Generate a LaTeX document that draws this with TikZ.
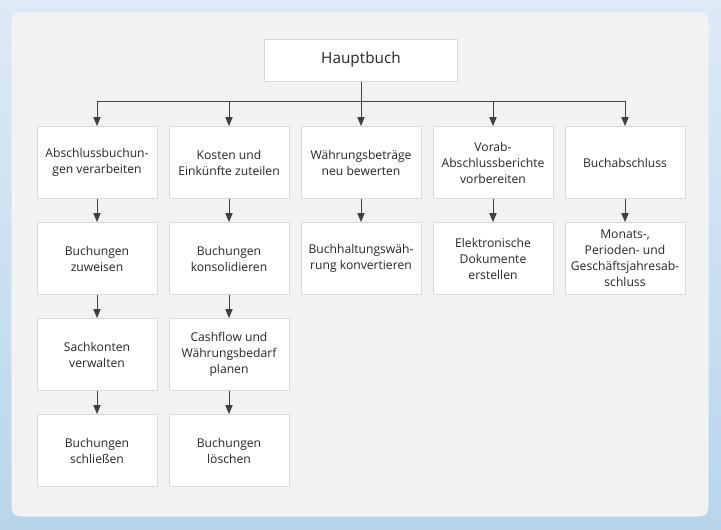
\documentclass[tikz,border=0pt]{standalone}
\usepackage{fontspec}
\setmainfont{Open Sans}
\usetikzlibrary{arrows.meta}
\definecolor{bgtop}{HTML}{DEEAF6}
\definecolor{bgbot}{HTML}{B9D5EC}
\definecolor{panel}{HTML}{F2F2F2}
\definecolor{boxline}{HTML}{D9D9D9}
\definecolor{arrline}{HTML}{404040}
\definecolor{txt}{HTML}{262626}
\tikzset{
    box/.style={draw=boxline, line width=0.75pt, fill=white, minimum width=90pt, minimum height=54pt,
        align=center, text=txt, font=\fontsize{9.1}{12}\selectfont, inner sep=1pt},
    topbox/.style={box, minimum width=144.75pt, minimum height=31.5pt, font=\fontsize{11.5}{13}\selectfont},
    arr/.style={draw=arrline, line width=0.75pt, -{Triangle[length=6.75pt,width=5.5pt]}}
}
\begin{document}
\begin{tikzpicture}[x=0.75pt,y=-0.75pt]
        \useasboundingbox (0,0) rectangle (721,529);
        \shade[top color=bgtop, bottom color=bgbot] (0,0) rectangle (721,529);
        \draw[draw=white!80!bgtop, fill=panel, rounded corners=6pt] (12,13) rectangle (708,516);

        \node[topbox] (hb) at (361,60) {Hauptbuch};

        % erste Reihe
        \node[box] (abs) at (97,162.5) {Abschlussbuchun-\\gen verarbeiten};
        \node[box] (kost) at (229,162.5) {Kosten und\\Einkünfte zuteilen};
        \node[box] (wbew) at (361,162.5) {Währungsbeträge\\neu bewerten};
        \node[box] (vorab) at (493,162.5) {Vorab-\\Abschlussberichte\\vorbereiten};
        \node[box] (buchab) at (625,162.5) {Buchabschluss};

        % zweite Reihe
        \node[box] (zuw) at (97,258.5) {Buchungen\\zuweisen};
        \node[box] (kons) at (229,258.5) {Buchungen\\konsolidieren};
        \node[box] (konv) at (361,258.5) {Buchhaltungswäh-\\rung konvertieren};
        \node[box] (edok) at (493,258.5) {Elektronische\\Dokumente\\erstellen};
        \node[box] (mon) at (625,258.5) {Monats-,\\Perioden- und\\Geschäftsjahresab-\\schluss};

        % dritte Reihe
        \node[box] (sach) at (97,354.5) {Sachkonten\\verwalten};
        \node[box] (cash) at (229,354.5) {Cashflow und\\Währungsbedarf\\planen};

        % vierte Reihe
        \node[box] (schl) at (97,450.5) {Buchungen\\schließen};
        \node[box] (loesch) at (229,450.5) {Buchungen\\löschen};

        \coordinate (bus) at (361,101);
        \draw[arr] (hb) -- (wbew);
        \draw[arr] (bus) -| (abs.north);
        \draw[arr] (bus) -| (kost.north);
        \draw[arr] (bus) -| (vorab.north);
        \draw[arr] (bus) -| (buchab.north);

        \draw[arr] (abs) -- (zuw);
        \draw[arr] (zuw) -- (sach);
        \draw[arr] (sach) -- (schl);
        \draw[arr] (kost) -- (kons);
        \draw[arr] (kons) -- (cash);
        \draw[arr] (cash) -- (loesch);
        \draw[arr] (wbew) -- (konv);
        \draw[arr] (vorab) -- (edok);
        \draw[arr] (buchab) -- (mon);
    \end{tikzpicture}
\end{document}
